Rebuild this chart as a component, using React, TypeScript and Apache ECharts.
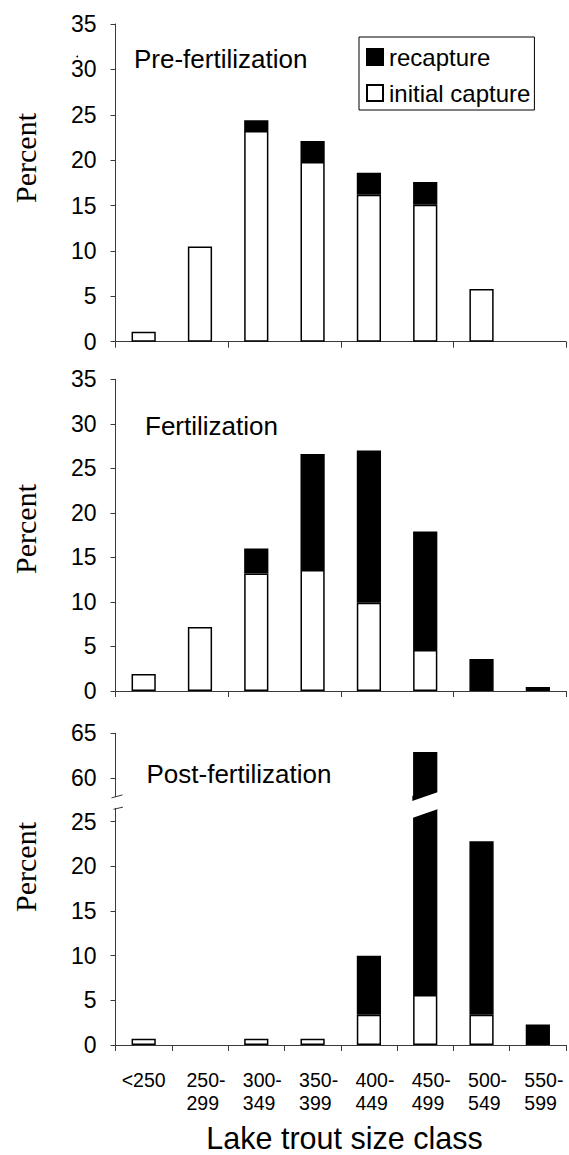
import React, { useEffect, useRef } from "react";
import * as echarts from "echarts";

// ---------------- data ----------------
const categories = ["<250", "250-299", "300-349", "350-399", "400-449", "450-499", "500-549", "550-599"];
const preInitial = [1.1, 10.5, 23.2, 19.8, 16.2, 15.1, 5.8, 0];
const preRecapture = [0, 0, 1.2, 2.3, 2.4, 2.5, 0, 0];
const ferInitial = [1.9, 7.2, 13.2, 13.6, 9.9, 4.6, 0, 0];
const ferRecapture = [0, 0, 2.8, 13.0, 17.1, 13.3, 3.6, 0.45];
const postInitial = [0.7, 0, 0.7, 0.7, 3.4, 5.6, 3.4, 0];
const postRecapture = [0, 0, 0, 0, 6.6, 57.3, 19.4, 2.3];
const panelTitles = ["Pre-fertilization", "Fertilization", "Post-fertilization"];
const lowerTicks = [0, 5, 10, 15, 20, 25];
const upperTicks = [60, 65];
const LOWER_MAX = 26.5; // top of lower segment (broken axis)
const UPPER_MIN = 57.87; // bottom of upper segment

// ---------------- layout ----------------
const W = 569;
const H = 1155;
const GL = 115.5;
const GW = 450.5;
const P3_LOWER_TOP = 808.3;
const P3_UPPER_TOP = 733.3;
const P3_UPPER_H = 63.4;
const P3_GAP = P3_LOWER_TOP - (P3_UPPER_TOP + P3_UPPER_H);
const BAR_RATIO = 0.43;
const FONT = "'Liberation Sans', Arial, Helvetica, sans-serif";
const SERIF = "'Liberation Serif', 'Times New Roman', serif";
const AXIS_COLOR = "#3a3a3a";

const nz = (arr: number[]) => arr.map((v) => (v === 0 ? null : v));

export default function App() {
  const ref = useRef<HTMLDivElement>(null);

  useEffect(() => {
    document.body.style.margin = "0";
    if (!ref.current) return;
    const chart = echarts.init(ref.current, undefined, { renderer: "svg" });

    const axisLine = { show: true, lineStyle: { color: AXIS_COLOR, width: 1 } };
    const xAxisBase = (gridIndex: number, showLabels: boolean, show = true) => ({
      type: "category",
      gridIndex,
      show,
      data: categories,
      axisLine,
      axisTick: { show: true, length: 6, lineStyle: { color: AXIS_COLOR, width: 1 } },
      axisLabel: showLabels
        ? {
            show: true,
            interval: 0,
            margin: 24,
            color: "#000",
            fontFamily: FONT,
            fontSize: 19.5,
            lineHeight: 22.5,
            formatter: (v: string) => {
              const i = v.indexOf("-");
              if (i < 0) return "{s|" + v + "}";
              return "{m|" + v.slice(0, i + 1) + "}\n{m|" + v.slice(i + 1) + "}";
            },
            rich: {
              s: { fontSize: 19.5, fontFamily: FONT, color: "#000", lineHeight: 22.5 },
              m: {
                fontSize: 19.5,
                fontFamily: FONT,
                color: "#000",
                lineHeight: 22.5,
                width: 39,
                align: "left",
                padding: [0, 0, 0, 12],
              },
            },
          }
        : { show: false },
      splitLine: { show: false },
    });
    const yLabel = {
      show: true,
      color: "#000",
      fontFamily: FONT,
      fontSize: 23,
      margin: 19,
    };
    const yTick = { show: true, length: 5, lineStyle: { color: AXIS_COLOR, width: 1 } };

    const whiteStyle = { color: "#fff", borderColor: "#000", borderWidth: 1.5 };
    const blackStyle = { color: "#000", borderColor: "#000", borderWidth: 1.5 };

    const postTotals = postInitial.map((v, i) => v + postRecapture[i]);

    const option: any = {
      animation: false,
      backgroundColor: "#fff",
      grid: [
        { left: GL, top: 24, width: GW, height: 317.7, containLabel: false, outerBoundsMode: "none" },
        { left: GL, top: 379.3, width: GW, height: 311.7, containLabel: false, outerBoundsMode: "none" },
        { left: GL, top: P3_LOWER_TOP, width: GW, height: 236.7, containLabel: false, outerBoundsMode: "none" },
        { left: GL, top: P3_UPPER_TOP, width: GW, height: P3_UPPER_H, containLabel: false, outerBoundsMode: "none" },
      ],
      xAxis: [xAxisBase(0, false), xAxisBase(1, false), xAxisBase(2, true), xAxisBase(3, false, false)],
      yAxis: [
        { type: "value", gridIndex: 0, min: 0, max: 35, interval: 5, axisLine, axisTick: yTick, axisLabel: yLabel, splitLine: { show: false } },
        { type: "value", gridIndex: 1, min: 0, max: 35, interval: 5, axisLine, axisTick: yTick, axisLabel: yLabel, splitLine: { show: false } },
        {
          type: "value",
          gridIndex: 2,
          min: 0,
          max: LOWER_MAX,
          axisLine,
          axisTick: { ...yTick, customValues: lowerTicks },
          axisLabel: { ...yLabel, customValues: lowerTicks },
          splitLine: { show: false },
        },
        {
          type: "value",
          gridIndex: 3,
          min: UPPER_MIN,
          max: 65,
          axisLine,
          axisTick: { ...yTick, customValues: upperTicks },
          axisLabel: { ...yLabel, customValues: upperTicks },
          splitLine: { show: false },
        },
      ],
      legend: {
        data: ["recapture", "initial capture"],
        orient: "vertical",
        left: 359,
        top: 37,
        icon: "rect",
        itemWidth: 16,
        itemHeight: 16,
        itemGap: 12,
        padding: [8, 4, 5, 7],
        borderColor: "#000",
        borderWidth: 1,
        borderRadius: 0,
        backgroundColor: "#fff",
        textStyle: { color: "#000", fontFamily: FONT, fontSize: 24, padding: [0, 0, 0, 1] },
      },
      series: [
        { name: "initial capture", type: "bar", xAxisIndex: 0, yAxisIndex: 0, stack: "p1", barWidth: "43%", data: nz(preInitial), itemStyle: whiteStyle },
        { name: "recapture", type: "bar", xAxisIndex: 0, yAxisIndex: 0, stack: "p1", barWidth: "43%", data: nz(preRecapture), itemStyle: blackStyle },
        { name: "initial capture", type: "bar", xAxisIndex: 1, yAxisIndex: 1, stack: "p2", barWidth: "43%", data: nz(ferInitial), itemStyle: whiteStyle },
        { name: "recapture", type: "bar", xAxisIndex: 1, yAxisIndex: 1, stack: "p2", barWidth: "43%", data: nz(ferRecapture), itemStyle: blackStyle },
        { name: "initial capture", type: "bar", xAxisIndex: 2, yAxisIndex: 2, stack: "p3", barWidth: "43%", data: nz(postInitial), itemStyle: whiteStyle },
        { name: "recapture", type: "bar", xAxisIndex: 2, yAxisIndex: 2, stack: "p3", barWidth: "43%", data: nz(postRecapture), itemStyle: blackStyle },
        {
          name: "recapture",
          type: "bar",
          xAxisIndex: 3,
          yAxisIndex: 3,
          barWidth: "43%",
          data: postTotals.map((t) => (t > UPPER_MIN ? t : null)),
          itemStyle: blackStyle,
        },
        {
          name: "break",
          type: "custom",
          xAxisIndex: 2,
          yAxisIndex: 2,
          z: 5,
          silent: true,
          encode: { x: 0, y: 1 },
          data: postTotals.map((t, i) => (t > LOWER_MAX ? [i, LOWER_MAX] : null)).filter((d) => d !== null),
          renderItem: (params: any, api: any) => {
            const idx = api.value(0);
            const p = api.coord([idx, api.value(1)]);
            const bw = api.size([1, 0])[0] * BAR_RATIO;
            const x0 = p[0] - bw / 2;
            const x1 = p[0] + bw / 2;
            const yL = p[1];
            const yU = yL - P3_GAP;
            const slope = 8.4 / bw;
            const L1 = (x: number) => yU + 4 - (x - x0) * slope;
            const xa = x0 - 3;
            const xb = x1 + 3;
            return {
              type: "group",
              children: [
                { type: "rect", shape: { x: x0 - 0.75, y: yU - 1, width: bw + 1.5, height: P3_GAP + 2 }, style: { fill: "#000" } },
                {
                  type: "polygon",
                  shape: { points: [[xa, L1(xa)], [xb, L1(xb)], [xb, L1(xb) + 17], [xa, L1(xa) + 17]] },
                  style: { fill: "#fff" },
                },
              ],
            };
          },
        },
      ],
      graphic: [
        { type: "text", left: 134, top: 45.5, style: { text: panelTitles[0], font: `26px ${FONT}`, fill: "#000" } },
        { type: "text", left: 145, top: 412.5, style: { text: panelTitles[1], font: `26px ${FONT}`, fill: "#000" } },
        { type: "text", left: 146.5, top: 760.5, style: { text: panelTitles[2], font: `26px ${FONT}`, fill: "#000" } },
        ...[158, 529, 867].map((cy) => ({
          type: "text",
          x: 25.5,
          y: cy,
          rotation: Math.PI / 2,
          style: { text: "Percent", font: `30px ${SERIF}`, fill: "#000", align: "center", verticalAlign: "middle" },
        })),
        {
          type: "text",
          x: 344.5,
          y: 1138,
          style: { text: "Lake trout size class", font: `30.5px ${FONT}`, fill: "#000", align: "center", verticalAlign: "middle" },
        },
        // axis break marks
        {
          type: "line",
          shape: { x1: GL - 4, y1: P3_UPPER_TOP + P3_UPPER_H + 1.2, x2: GL + 7, y2: P3_UPPER_TOP + P3_UPPER_H - 1.8 },
          style: { stroke: AXIS_COLOR, lineWidth: 1 },
        },
        {
          type: "line",
          shape: { x1: GL - 2, y1: P3_LOWER_TOP + 1, x2: GL + 7.5, y2: P3_LOWER_TOP - 1.2 },
          style: { stroke: AXIS_COLOR, lineWidth: 1 },
        },
        { type: "circle", shape: { cx: 77.3, cy: 56.5, r: 0.9 }, style: { fill: "#000" } },
      ],
    };

    chart.setOption(option);
    return () => chart.dispose();
  }, []);

  return <div ref={ref} style={{ width: W, height: H }} />;
}
